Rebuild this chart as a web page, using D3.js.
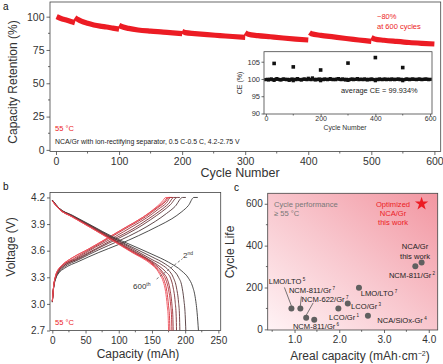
<!DOCTYPE html>
<html><head><meta charset="utf-8">
<script src="https://cdn.jsdelivr.net/npm/d3@7"></script>
<style>body{margin:0;background:#fff}svg{display:block}text{font-family:"Liberation Sans",Arial,sans-serif}</style>
</head><body><svg id="c" width="443" height="364"></svg>
<script>
// ---------- DATA ----------
// Panel a: capacity retention blocks (cycle, %)
const retentionBlocks = [
  [[1,100],[5,99.2],[10,98.3],[15,97.6],[20,96.9],[25,96.2],[30,95.5]],
  [[30,99.3],[35,97.8],[40,96.6],[50,95.0],[60,93.8],[70,92.9],[80,92.2],[90,91.4],[100,90.6]],
  [[100,93.5],[105,92.4],[115,91.2],[130,90.0],[150,89.1],[170,88.4],[185,87.8],[200,87.3]],
  [[200,89.0],[205,88.0],[220,87.3],[240,86.5],[260,85.8],[280,85.1],[300,84.5]],
  [[300,88.0],[305,86.8],[320,85.8],[340,84.9],[360,84.0],[380,83.2],[400,82.5]],
  [[402,88.0],[405,87.2],[420,86.0],[440,84.8],[460,83.6],[480,82.5],[500,81.4]],
  [[500,84.3],[505,83.3],[520,82.3],[540,81.4],[560,80.6],[580,80.0],[600,79.5]]
];
const retentionTicks = [0,25,50,75,100];
const cycleTicks = [0,100,200,300,400,500,600];
// Inset: coulombic efficiency sampled every 5 cycles
const ceValues = [
99.8,99.9,99.7,99.9,100.0,99.8,99.6,99.9,100.1,99.9,
99.8,99.7,99.9,100.0,99.9,99.8,99.9,99.6,99.8,100.0,
99.5,99.9,99.8,100.1,99.9,99.8,99.7,99.9,100.0,99.9,
99.8,100.2,99.9,99.8,100.3,99.9,99.7,99.9,99.8,100.0,
99.5,99.9,99.8,100.0,99.9,99.8,99.9,100.1,99.9,99.8,
99.9,99.8,100.0,100.1,99.9,99.8,100.0,99.9,99.7,99.9,
99.6,99.8,99.9,100.0,99.8,99.9,99.9,100.1,99.8,99.9,
99.9,99.8,100.0,99.9,99.7,99.9,99.8,100.0,99.9,99.8,
99.5,99.9,99.8,100.0,99.9,99.8,99.9,100.0,99.8,99.9,
99.9,99.8,100.0,99.9,99.8,99.9,99.9,100.0,99.8,99.9,
99.5,99.8,99.9,100.0,99.9,99.8,99.9,100.0,99.9,99.9,
99.8,99.9,100.0,99.9,99.8,99.9,99.9,100.0,99.9,99.8,
99.9];
const ceCycleStep = 5;
const ceOutliers = [[30,104.5],[100,103.5],[200,102.6],[300,104.6],[400,106.2],[500,103.3]];
const ceTicks = [90,95,100,105];
const ceCycleTicks = [0,200,400,600];

// Panel b: voltage profiles (capacity mAh, V), cycles 2 ... 600
const profileCycles = [2,100,200,300,400,500,550,600];
const dischargeCurves = [
  [[0,4.17],[10,4.08],[30,4.00],[60,3.88],[90,3.76],[120,3.66],[150,3.56],[175,3.47],[195,3.37],[205,3.29],[211,3.20],[215,3.08],[218,2.90],[220,2.70]],
  [[0,4.17],[10,4.08],[30,3.995],[60,3.875],[90,3.75],[120,3.64],[150,3.53],[170,3.45],[182,3.38],[190,3.30],[195,3.20],[198,3.05],[200,2.88],[201,2.70]],
  [[0,4.17],[10,4.08],[30,3.99],[60,3.87],[90,3.745],[120,3.625],[150,3.50],[165,3.44],[175,3.38],[182,3.30],[187,3.18],[190,3.02],[191.5,2.86],[192,2.70]],
  [[0,4.165],[10,4.075],[30,3.99],[60,3.865],[90,3.735],[120,3.61],[150,3.48],[162,3.42],[171,3.36],[178,3.29],[182,3.18],[185,3.02],[186.5,2.86],[187,2.70]],
  [[0,4.165],[10,4.075],[30,3.985],[60,3.86],[90,3.73],[120,3.60],[150,3.47],[160,3.41],[167,3.35],[173,3.28],[177,3.17],[180,3.00],[181.5,2.85],[182,2.70]],
  [[0,4.16],[10,4.07],[30,3.985],[60,3.855],[90,3.725],[120,3.59],[150,3.46],[159,3.40],[166,3.34],[171,3.27],[175,3.16],[178,3.00],[179.5,2.85],[180,2.70]],
  [[0,4.16],[10,4.07],[30,3.98],[60,3.85],[90,3.72],[120,3.585],[150,3.45],[158,3.39],[164,3.33],[169,3.25],[172.5,3.14],[175,2.98],[176.5,2.84],[177,2.70]],
  [[0,4.16],[10,4.07],[30,3.98],[60,3.85],[90,3.715],[120,3.58],[150,3.44],[157,3.39],[162,3.33],[167,3.25],[170.5,3.14],[173,2.98],[174.5,2.84],[175,2.70]]
];
const chargeCurves = [
  [[0,3.02],[2,3.18],[5,3.28],[10,3.35],[18,3.40],[40,3.48],[70,3.58],[100,3.67],[130,3.77],[160,3.88],[180,3.96],[195,4.04],[205,4.11],[213,4.20],[219,4.20]],
  [[0,3.02],[2,3.19],[5,3.29],[10,3.36],[17,3.41],[40,3.50],[70,3.61],[100,3.71],[130,3.82],[155,3.93],[172,4.02],[185,4.10],[196,4.20],[201,4.20]],
  [[0,3.02],[2,3.19],[5,3.30],[10,3.37],[16,3.42],[40,3.51],[70,3.63],[100,3.74],[125,3.84],[148,3.95],[165,4.04],[178,4.12],[188,4.20],[192,4.20]],
  [[0,3.03],[2,3.19],[5,3.30],[10,3.38],[16,3.42],[35,3.50],[65,3.62],[95,3.74],[120,3.84],[145,3.96],[162,4.05],[175,4.13],[183,4.20],[187,4.20]],
  [[0,3.03],[2,3.20],[5,3.31],[10,3.39],[15,3.43],[35,3.51],[65,3.64],[95,3.76],[120,3.87],[142,3.97],[160,4.07],[172,4.14],[178,4.20],[182,4.20]],
  [[0,3.03],[2,3.20],[5,3.31],[10,3.39],[15,3.43],[32,3.51],[60,3.63],[90,3.76],[115,3.87],[140,3.98],[158,4.08],[170,4.15],[176,4.20],[180,4.20]],
  [[0,3.03],[2,3.20],[5,3.32],[10,3.40],[15,3.44],[30,3.52],[55,3.62],[85,3.75],[112,3.87],[137,3.98],[156,4.08],[168,4.15],[174,4.20],[177,4.20]],
  [[0,3.03],[2,3.20],[5,3.32],[10,3.40],[15,3.44],[30,3.52],[50,3.60],[80,3.73],[110,3.86],[135,3.97],[153,4.07],[165,4.15],[171,4.20],[175,4.20]]
];
const voltageTicks = [2.7,3.0,3.3,3.6,3.9,4.2];
const capacityTicks = [0,50,100,150,200,250];

// Panel c: literature comparison
const litNames  = ["LMO/LTO","NCM-811/Gr","NCM-622/Gr","NCM-811/Gr","LCO/Gr","LCO/Gr","LMO/LTO","NCA/SiOx-Gr","NCM-811/Gr","NCA/Gr"];
const litRefs   = ["5","7","7","6","1","3","7","4","2",""];
const litAreal  = [0.93,1.13,1.26,1.44,1.98,2.19,2.44,2.64,3.70,3.84];
const litCycles = [100,100,55,46,100,124,199,65,302,320];
const optimized = [3.84,600];
const arealTicks = [1.0,2.0,3.0,4.0];
const lifeTicks = [0,200,400,600];

// ---------- DRAW ----------
const svg = d3.select("#c");
const FONT = '"Liberation Sans",Arial,sans-serif';
const AX = "#444", TXT = "#333", RED = "#ec1c24";

function frame(x0,y0,x1,y1){
  svg.append("rect").attr("x",x0).attr("y",y0).attr("width",x1-x0).attr("height",y1-y0)
    .attr("fill","none").attr("stroke",AX).attr("stroke-width",0.8);
}
function axis(g, ax, fs){
  g.call(ax);
  g.select(".domain").remove();
  g.selectAll(".tick line").attr("stroke",AX).attr("stroke-width",0.8);
  g.selectAll(".tick text").attr("fill",TXT).style("font-size",fs+"px").style("font-family",FONT);
}
function minor(g, scale, vals, orient, len){
  vals.forEach(v=>{
    const p = scale(v);
    if(orient==="bottom") g.append("line").attr("x1",p).attr("x2",p).attr("y1",0).attr("y2",len);
    else g.append("line").attr("y1",p).attr("y2",p).attr("x1",0).attr("x2",-len);
  });
  g.selectAll("line").attr("stroke",AX).attr("stroke-width",0.8);
}
function label(x,y,t,opt={}){
  const e = svg.append("text").attr("x",x).attr("y",y).text(t)
    .attr("fill",opt.fill||TXT).style("font-size",(opt.fs||8)+"px")
    .attr("text-anchor",opt.anchor||"start");
  if(opt.rot) e.attr("transform",`rotate(-90,${x},${y})`);
  return e;
}

// ===== Panel a =====
const ax0=50, ax1=440.7, ay0=2, ay1=151.5;
const xa = d3.scaleLinear().domain([-9.5,610]).range([ax0,ax1]);
const ya = d3.scaleLinear().domain([-1.2,111]).range([ay1,ay0]);
frame(ax0,ay0,ax1,ay1);
axis(svg.append("g").attr("transform",`translate(0,${ay1})`),
  d3.axisBottom(xa).tickValues(cycleTicks).tickSize(3.5).tickPadding(3), 10.5);
axis(svg.append("g").attr("transform",`translate(${ax0},0)`),
  d3.axisLeft(ya).tickValues(retentionTicks).tickSize(3.5).tickPadding(2), 10.5);
minor(svg.append("g").attr("transform",`translate(0,${ay1})`), xa, [50,150,250,350,450,550], "bottom", 2);
minor(svg.append("g").attr("transform",`translate(${ax0},0)`), ya, [12.5,37.5,62.5,87.5], "left", 2);
const lineA = d3.line().x(d=>xa(d[0])).y(d=>ya(d[1])).curve(d3.curveMonotoneX);
retentionBlocks.forEach(b=>{
  svg.append("path").attr("d",lineA(b)).attr("fill","none").attr("stroke",RED)
    .attr("stroke-width",5.2).attr("stroke-linejoin","round");
});
label(240,177,"Cycle Number",{fs:12.5,anchor:"middle"});
label(17,82,"Capacity Retention (%)",{fs:12,anchor:"middle",rot:true});
label(3,10,"a",{fs:10,fill:"#111"});
label(377,19,"~80%",{fs:7.5,fill:RED});
label(377,29,"at 600 cycles",{fs:7.5,fill:RED});
label(55,131,"55 °C",{fs:7.5,fill:RED});
label(55,144,"NCA/Gr with ion-rectifying separator, 0.5 C-0.5 C, 4.2-2.75 V",{fs:6.9,fill:"#222"});

// Inset
const ix0=264, ix1=432, iy0=51.7, iy1=114;
svg.append("rect").attr("x",ix0).attr("y",iy0).attr("width",ix1-ix0).attr("height",iy1-iy0).attr("fill","#fff");
const xi = d3.scaleLinear().domain([-7,607]).range([ix0,ix1]);
const yi = d3.scaleLinear().domain([89.85,107.9]).range([iy1,iy0]);
frame(ix0,iy0,ix1,iy1);
axis(svg.append("g").attr("transform",`translate(0,${iy1})`),
  d3.axisBottom(xi).tickValues(ceCycleTicks).tickSize(2).tickPadding(0), 7);
axis(svg.append("g").attr("transform",`translate(${ix0},0)`),
  d3.axisLeft(yi).tickValues(ceTicks).tickSize(2.5).tickPadding(1.5), 7.5);
minor(svg.append("g").attr("transform",`translate(0,${iy1})`), xi, [100,300,500], "bottom", 1.5);
const sq = 3.2;
svg.append("g").selectAll("rect").data(ceValues).join("rect")
  .attr("x",(d,i)=>xi(i*ceCycleStep)-sq/2).attr("y",d=>yi(d)-sq/2)
  .attr("width",sq).attr("height",sq).attr("fill","#111");
svg.append("g").selectAll("rect").data(ceOutliers).join("rect")
  .attr("x",d=>xi(d[0])-1.8).attr("y",d=>yi(d[1])-1.8)
  .attr("width",3.6).attr("height",3.6).attr("fill","#111");
label(345,130,"Cycle Number",{fs:6.8,anchor:"middle"});
label(242,83,"CE (%)",{fs:7,anchor:"middle",rot:true});
label(341,93,"average CE =  99.934%",{fs:7.4,fill:"#222"});

// ===== Panel b =====
const bx0=50, bx1=220.7, by0=192.5, by1=330.5;
const xb = d3.scaleLinear().domain([-3.5,253.5]).range([bx0,bx1]);
const yb = d3.scaleLinear().domain([2.7,4.256]).range([by1,by0]);
frame(bx0,by0,bx1,by1);
axis(svg.append("g").attr("transform",`translate(0,${by1})`),
  d3.axisBottom(xb).tickValues(capacityTicks).tickSize(3).tickPadding(3), 10);
axis(svg.append("g").attr("transform",`translate(${bx0},0)`),
  d3.axisLeft(yb).tickValues(voltageTicks).tickFormat(d3.format(".1f")).tickSize(3).tickPadding(2), 10);
minor(svg.append("g").attr("transform",`translate(0,${by1})`), xb, [25,75,125,175,225], "bottom", 1.8);
const colB = d3.scaleLinear().domain([0,3,6,7]).range(["#3a3a3a","#7a3036","#d8303a","#f25560"]).interpolate(d3.interpolateRgb);
const lineB = d3.line().x(d=>xb(d[0])).y(d=>yb(d[1])).curve(d3.curveMonotoneX);
profileCycles.forEach((c,i)=>{
  svg.append("path").attr("d",lineB(chargeCurves[i])).attr("fill","none").attr("stroke",colB(i)).attr("stroke-width",0.9);
});
profileCycles.forEach((c,i)=>{
  svg.append("path").attr("d",lineB(dischargeCurves[i])).attr("fill","none").attr("stroke",colB(i)).attr("stroke-width",0.9);
});
svg.append("line").attr("x1",xb(157)).attr("y1",yb(3.28)).attr("x2",xb(196)).attr("y2",yb(3.51))
  .attr("stroke","#555").attr("stroke-width",0.8).attr("stroke-dasharray","2.5,2");
const t2 = label(183,258,"2",{fs:8});
t2.append("tspan").attr("dy",-3).style("font-size","5px").text("nd");
const t600 = label(133,289,"600",{fs:8});
t600.append("tspan").attr("dy",-3).style("font-size","5px").text("th");
label(55,325,"55 °C",{fs:7.5,fill:RED});
label(138,358,"Capacity (mAh)",{fs:12,anchor:"middle"});
label(15,247,"Voltage (V)",{fs:12,anchor:"middle",rot:true});
label(3,190,"b",{fs:10,fill:"#111"});

// ===== Panel c =====
const cx0=267.7, cx1=437.7, cy0=193.3, cy1=330;
const xc = d3.scaleLinear().domain([0.4,4.2]).range([cx0,cx1]);
const yc = d3.scaleLinear().domain([-3,650]).range([cy1,cy0]);
const grad = svg.append("defs").append("linearGradient").attr("id","pg")
  .attr("x1","0").attr("y1","1").attr("x2","1").attr("y2","0");
grad.append("stop").attr("offset","0").attr("stop-color","#fff3f5");
grad.append("stop").attr("offset","0.5").attr("stop-color","#f8c6cd");
grad.append("stop").attr("offset","1").attr("stop-color","#f296a1");
svg.append("rect").attr("x",cx0).attr("y",cy0).attr("width",cx1-cx0).attr("height",cy1-cy0).attr("fill","url(#pg)");
frame(cx0,cy0,cx1,cy1);
axis(svg.append("g").attr("transform",`translate(0,${cy1})`),
  d3.axisBottom(xc).tickValues(arealTicks).tickFormat(d3.format(".1f")).tickSize(3).tickPadding(3), 10);
axis(svg.append("g").attr("transform",`translate(${cx0},0)`),
  d3.axisLeft(yc).tickValues(lifeTicks).tickSize(3).tickPadding(2), 10);
minor(svg.append("g").attr("transform",`translate(0,${cy1})`), xc, [0.5,1.5,2.5,3.5], "bottom", 1.8);
minor(svg.append("g").attr("transform",`translate(${cx0},0)`), yc, [100,300,500], "left", 1.8);

// connector lines (label anchor pixel offsets relative to point)
const connectors = {0:[-7,-21], 1:[1,-12], 2:[7,-15]};
Object.entries(connectors).forEach(([i,o])=>{
  const px=xc(litAreal[i]), py=yc(litCycles[i]);
  svg.append("line").attr("x1",px).attr("y1",py-2.5).attr("x2",px+o[0]).attr("y2",py+o[1])
    .attr("stroke","#555").attr("stroke-width",0.8);
});
svg.append("g").selectAll("circle").data(litAreal).join("circle")
  .attr("cx",d=>xc(d)).attr("cy",(d,i)=>yc(litCycles[i])).attr("r",3).attr("fill","#606060");
svg.append("path").attr("d",d3.symbol(d3.symbolStar,55)())
  .attr("transform",`translate(${xc(optimized[0])},${yc(optimized[1])})`).attr("fill",RED);

// literature labels: [index, pixel x, pixel y, anchor]
const litLabelPos = [[0,287,284,"middle"],[1,312,293,"middle"],[2,325,302,"middle"],[3,316,329,"middle"],
  [4,344,320,"middle"],[5,366,309,"middle"],[6,379,296,"middle"],[7,402,323,"middle"],[8,412,278,"middle"]];
litLabelPos.forEach(([i,x,y,a])=>{
  const t = label(x,y,litNames[i],{fs:7.6,anchor:a,fill:"#222"});
  t.append("tspan").attr("dy",-2.8).style("font-size","4.5px").text(" "+litRefs[i]);
});
label(415,249,"NCA/Gr",{fs:7.6,anchor:"middle",fill:"#222"});
label(415,259,"this work",{fs:7.6,anchor:"middle",fill:"#222"});
label(393,206.5,"Optimized",{fs:7.6,anchor:"middle",fill:RED});
label(393,215.5,"NCA/Gr",{fs:7.6,anchor:"middle",fill:RED});
label(393,224.5,"this work",{fs:7.6,anchor:"middle",fill:RED});
label(274,206.5,"Cycle performance",{fs:7.6,fill:"#777"});
label(274,215.5,"≥ 55 °C",{fs:7.6,fill:"#777"});
const at = label(360,360,"Areal capacity (mAh·cm",{fs:12,anchor:"middle"});
at.append("tspan").attr("dy",-4).style("font-size","7px").text("−2");
at.append("tspan").attr("dy",4).text(")");
label(234,252,"Cycle Life",{fs:12,anchor:"middle",rot:true});
label(234,191,"c",{fs:10,fill:"#111"});
</script></body></html>
